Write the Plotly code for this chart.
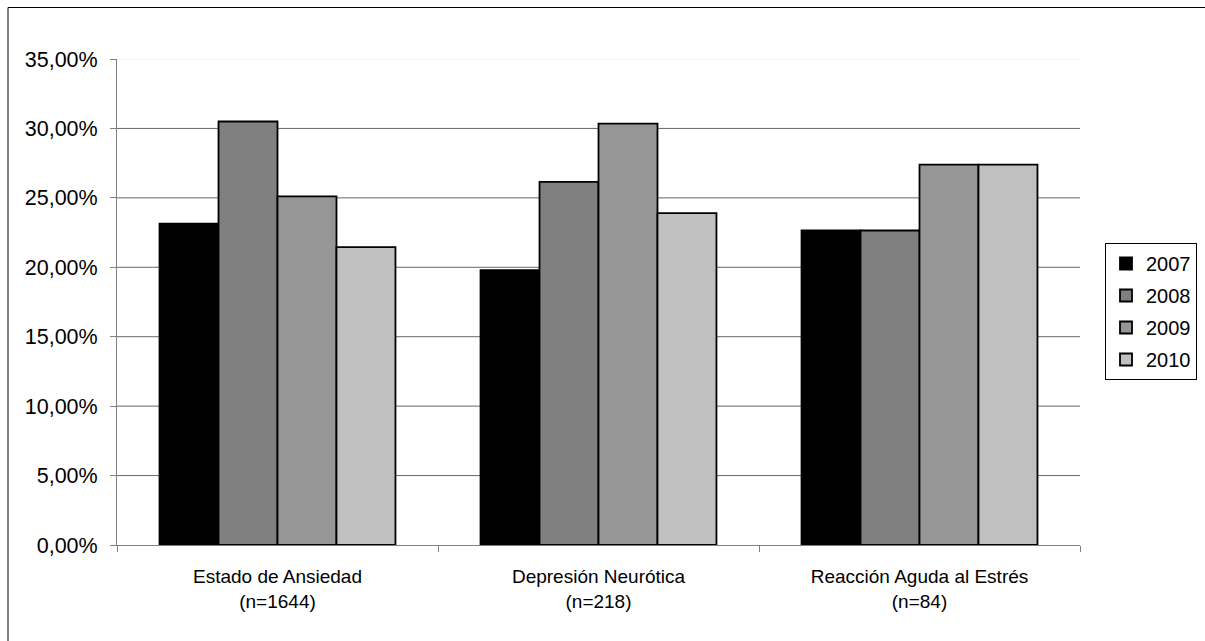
import plotly.graph_objects as go

categories = ["Estado de Ansiedad<br>(n=1644)", "Depresión Neurótica<br>(n=218)", "Reacción Aguda al Estrés<br>(n=84)"]
years = ["2007", "2008", "2009", "2010"]
v2007 = [23.15, 19.8, 22.65]
v2008 = [30.5, 26.15, 22.65]
v2009 = [25.1, 30.35, 27.4]
v2010 = [21.45, 23.9, 27.4]
colors = ["#000000", "#808080", "#969696", "#C0C0C0"]
yticks = [0, 5, 10, 15, 20, 25, 30, 35]
yticklabels = ["0,00%", "5,00%", "10,00%", "15,00%", "20,00%", "25,00%", "30,00%", "35,00%"]

fig = go.Figure()
for name, vals, col in zip(years, [v2007, v2008, v2009, v2010], colors):
    fig.add_trace(go.Bar(name=name, x=categories, y=vals, legendgroup=name,
                         marker=dict(color=col, line=dict(color="#000000", width=1.8))))

W, H = 1205, 641
L, R, T, B = 117, 125, 59, 96
pw, ph = W - L - R, H - T - B

fig.update_layout(
    width=W, height=H,
    margin=dict(l=L, r=R, t=T, b=B, pad=0, autoexpand=False),
    barmode="group", bargap=0.265, bargroupgap=0,
    plot_bgcolor="white", paper_bgcolor="white",
    font=dict(family="Liberation Sans, Arial, sans-serif", size=20, color="#000000"),
    showlegend=True,
    legend=dict(x=(1197 - L) / pw, y=(H - B - 243) / ph, xanchor="right", yanchor="top",
                bordercolor="#000000", borderwidth=1,
                font=dict(size=20), itemwidth=30, traceorder="grouped", tracegroupgap=3, bgcolor="white"),
    xaxis=dict(showline=True, linecolor="#808080", linewidth=1, ticks="outside", tickson="boundaries",
               ticklen=6, tickcolor="#808080", showgrid=False, tickfont=dict(size=19),
               ticklabelstandoff=14, automargin=False),
    yaxis=dict(range=[0, 35], tickvals=yticks, ticktext=yticklabels, showline=True, linecolor="#808080",
               linewidth=1, ticks="outside", ticklen=6, tickcolor="#808080", showgrid=False,
               zeroline=False, tickfont=dict(size=21.5), ticklabelstandoff=8, automargin=False),
)
# horizontal gridlines (top one is faint in the reference)
for t in yticks[1:]:
    fig.add_shape(type="line", xref="paper", yref="y", x0=0, x1=1, y0=t, y1=t,
                  line=dict(color="#666666" if t < 35 else "#eeeeee", width=1), layer="below")
# outer chart border
fig.add_shape(type="rect", xref="paper", yref="paper",
              x0=(8 - L) / pw, x1=(1215 - L) / pw, y0=(H - B - 650) / ph, y1=(H - B - 7.5) / ph,
              line=dict(color="#000000", width=1), layer="below")
fig.write_html("out.html", config={"displayModeBar": False},
               post_script="document.body.style.margin='0';")
